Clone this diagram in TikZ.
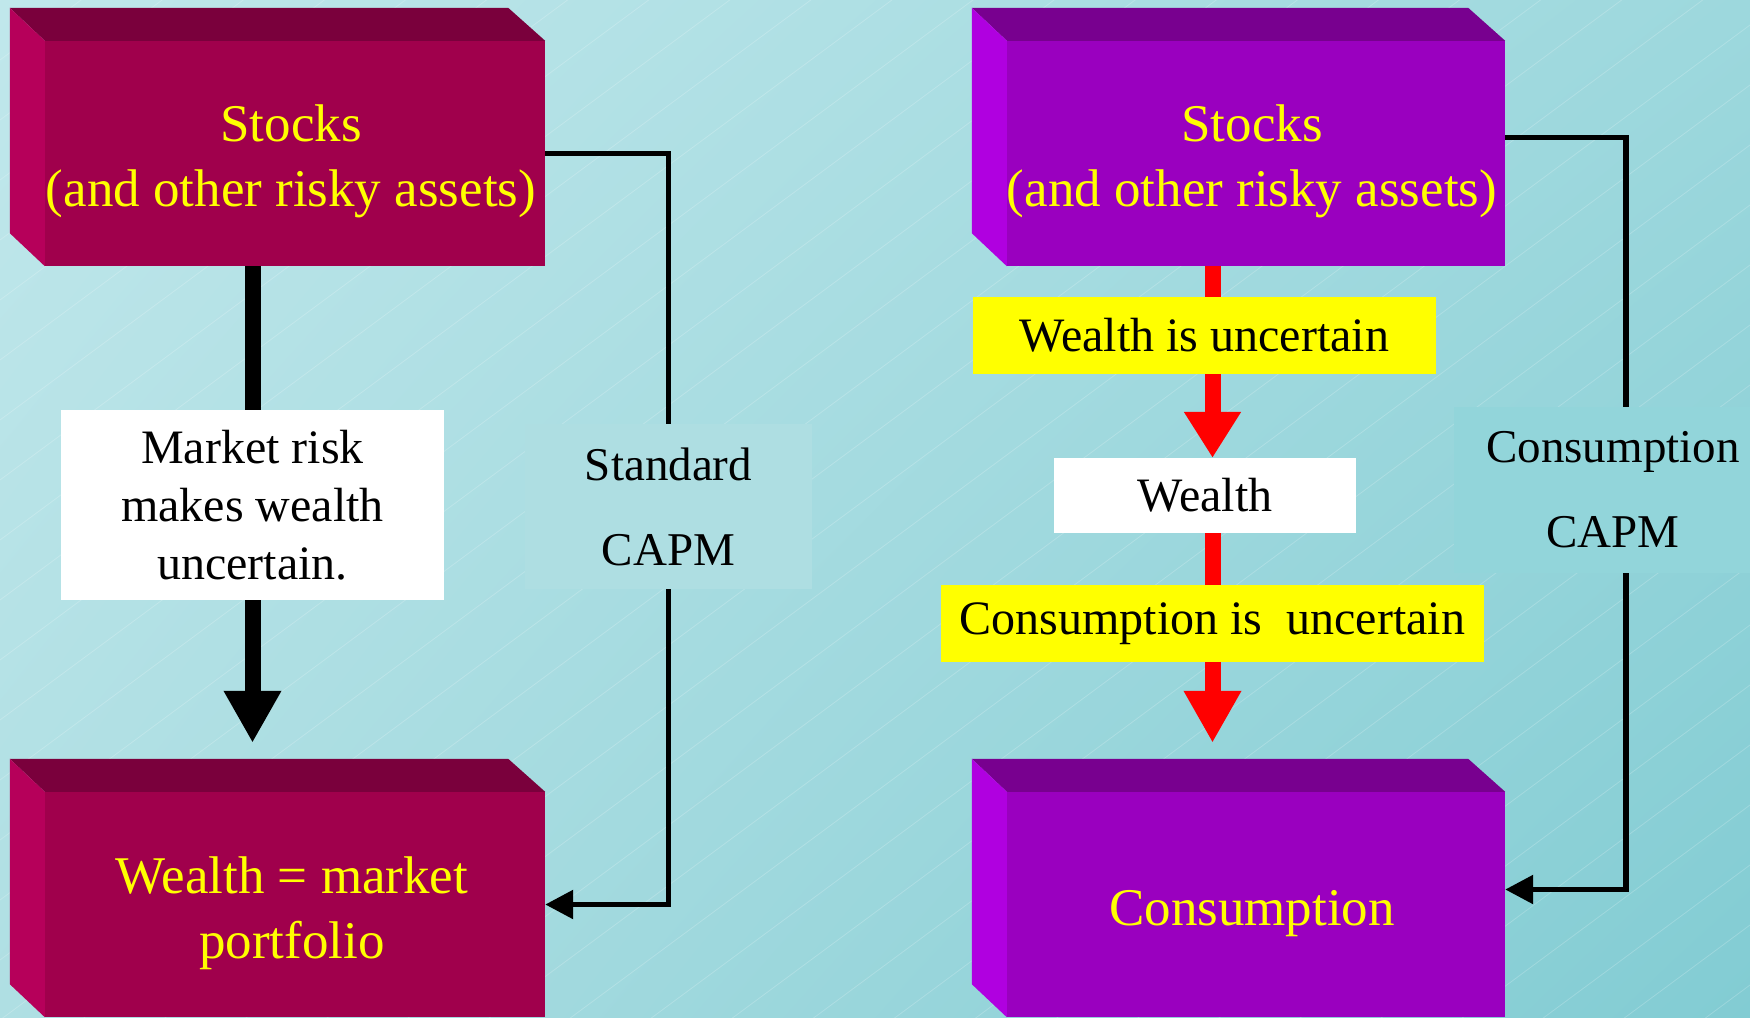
\documentclass[tikz,border=0pt]{standalone}
\usepackage{fontspec}
\setmainfont{Liberation Serif}
\usetikzlibrary{arrows.meta,calc,shadings}
\definecolor{bgUL}{HTML}{C0E7EB}
\definecolor{bgUR}{HTML}{9DD8DD}
\definecolor{bgLL}{HTML}{AFDFE3}
\definecolor{bgLR}{HTML}{82CCD3}
\definecolor{marFront}{HTML}{A0004C}
\definecolor{marTop}{HTML}{7A003C}
\definecolor{marLeft}{HTML}{B6005A}
\definecolor{purFront}{HTML}{9A00BF}
\definecolor{purTop}{HTML}{78008F}
\definecolor{purLeft}{HTML}{B000E0}
\definecolor{yel}{HTML}{FFFF00}
\definecolor{rd}{HTML}{FF0000}
\definecolor{lblL}{HTML}{AEDEE2}
\definecolor{lblR}{HTML}{92D5DA}
\newcommand\drawboxfaces[3]{%
  \fill[#2] (#1.north west) -- ++(-35,-33) -- ($(#1.north east)+(-37,-33)$) -- (#1.north east) -- cycle;
  \fill[#3] (#1.north west) -- ++(-35,-33) -- ($(#1.south west)+(-35,-33)$) -- (#1.south west) -- cycle;}
\tikzset{
  front/.style={draw=none, inner sep=0pt, minimum width=500pt, minimum height=225pt},
  ytext/.style={text=yel, align=center, inner sep=0pt, font=\fontsize{53}{65}\selectfont},
  btext/.style={text=black, align=center, inner sep=0pt, font=\fontsize{48}{58}\selectfont},
  wbox/.style={btext, fill=white},
  ybox/.style={btext, fill=yel},
  lbl/.style={text=black, align=center, inner sep=0pt, font=\fontsize{47}{85}\selectfont},
  diag/.style={white, opacity=0.2, line width=0.8pt},
  thin/.style={black, line width=5.5pt, -{Triangle[width=28pt,length=28pt]}},
  thinplain/.style={black, line width=5.5pt},
  thick/.style={black, line width=16pt},
  redline/.style={rd, line width=16pt},
}
\begin{document}
\begin{tikzpicture}[x=1pt,y=-1pt]
\clip (0,0) rectangle (1750,1017);
\shade[upper left=bgUL, upper right=bgUR, lower left=bgLL, lower right=bgLR] (0,0) rectangle (1750,1017);
\foreach \c in {0,60,...,2340} \draw[diag] (0,\c) -- (1750,\c-1295);

% left column
\node[front, fill=marFront] (stocksL) at (295,153.5) {};
\drawboxfaces{stocksL}{marTop}{marLeft}
\node[ytext] (stocksLt) at ($(stocksL.center)+(-4,8)$) {Stocks\\(and other risky assets)};
\node[front, fill=marFront] (wealthL) at (295,904.5) {};
\drawboxfaces{wealthL}{marTop}{marLeft}
\node[ytext] (wealthLt) at ($(wealthL.center)+(-3,9)$) {Wealth = market\\portfolio};
\node[wbox, minimum width=383pt, minimum height=190pt, text depth=-3pt] (mrisk) at (252.5,505) {Market risk\\makes wealth\\uncertain.};
\node[lbl, fill=lblL, minimum width=287pt, minimum height=165pt] (stdlabel) at (668.5,506.5) {Standard\\CAPM};

\draw[thick] (mrisk.north |- stocksL.south) -- (mrisk.north);
\draw[thick, -{Triangle[width=54pt,length=52pt]}, shorten >=49pt] (mrisk.south) -- (mrisk.south |- wealthL.north);
\draw[thinplain] (stocksL.east) -| (stdlabel.north);
\draw[thin] (stdlabel.south) |- (wealthL.east);

% right column
\node[front, minimum width=498pt, fill=purFront] (stocksR) at (1256,153.5) {};
\drawboxfaces{stocksR}{purTop}{purLeft}
\node[ytext] (stocksRt) at ($(stocksR.center)+(-4,8)$) {Stocks\\(and other risky assets)};
\node[front, minimum width=498pt, fill=purFront] (consR) at (1256,904.5) {};
\drawboxfaces{consR}{purTop}{purLeft}
\node[ytext] (consRt) at ($(consR.center)+(-4,9)$) {Consumption};
\node[ybox, minimum width=463pt, minimum height=77pt] (wu) at (1204.5,335.5) {Wealth is uncertain};
\node[wbox, minimum width=302pt, minimum height=75pt] (w) at (1205,495.5) {Wealth};
\node[ybox, minimum width=543pt, minimum height=77pt] (cu) at (1212.5,623.5) {Consumption is~~uncertain};
\node[lbl, fill=lblR, minimum width=318pt, minimum height=166pt] (conslabel) at (1613,490) {Consumption\\CAPM};

\draw[redline] (stocksR.south -| cu.north) -- (wu.north -| cu.north);
\draw[redline, -{Triangle[width=54pt,length=46pt]}] (wu.south -| cu.north) -- (w.north -| cu.north);
\draw[redline] (w.south -| cu.north) -- (cu.north);
\draw[redline, -{Triangle[width=54pt,length=52pt]}, shorten >=49pt] (cu.south) -- (cu.south |- consR.north);
\draw[thinplain] ([yshift=16pt]stocksR.east) -| ([xshift=13pt]conslabel.north);
\draw[thin] ([xshift=13pt]conslabel.south) |- ([yshift=15pt]consR.east);
\end{tikzpicture}
\end{document}
